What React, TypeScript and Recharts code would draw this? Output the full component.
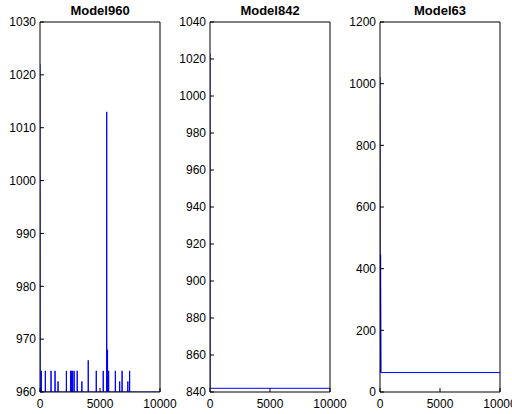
import React from 'react';
import { LineChart, Line, XAxis, YAxis } from 'recharts';

// x ticks shared by all three panels
const xTicks = [0, 5000, 10000];

// Model960: start value, baseline and the spikes
const m960Start = 1022;
const m960Base = 960;
const m960SpikeX = [110, 445, 920, 1255, 1505, 2200, 2550, 2635, 2720, 2845, 3100, 3490, 4020, 4690, 5270, 5560, 5630, 5720, 6280, 6640, 6840, 7320, 7470];
const m960SpikeY = [964, 964, 964, 964, 962, 964, 964, 964, 964, 964, 964, 962, 966, 964, 964, 1013, 968, 964, 964, 962, 964, 962, 964];
const m960Ticks = [960, 970, 980, 990, 1000, 1010, 1020, 1030];

// Model842: drops right away and stays flat
const m842X = [0, 10, 10000];
const m842Y = [1023, 842, 842];
const m842Ticks = [840, 860, 880, 900, 920, 940, 960, 980, 1000, 1020, 1040];

// Model63: drop, small bounce, then flat
const m63X = [0, 20, 50, 90, 10000];
const m63Y = [1022, 63, 445, 63, 63];
const m63Ticks = [0, 200, 400, 600, 800, 1000, 1200];

type Pt = { x: number; y: number };

const buildSpikes = (): Pt[] => {
  const pts: Pt[] = [{ x: 0, y: m960Start }, { x: 15, y: m960Base }];
  m960SpikeX.forEach((sx, i) => {
    pts.push({ x: sx - 12, y: m960Base });
    pts.push({ x: sx, y: m960SpikeY[i] });
    pts.push({ x: sx + 12, y: m960Base });
  });
  pts.push({ x: 10000, y: m960Base });
  return pts;
};

const zip = (xs: number[], ys: number[]): Pt[] => xs.map((x, i) => ({ x, y: ys[i] }));

const tickStyle = { fill: '#000', fontSize: 12, fontFamily: '"Liberation Sans", Arial, sans-serif' };

interface PanelProps {
  title: string;
  left: number;
  data: Pt[];
  yTicks: number[];
}

const Panel: React.FC<PanelProps> = ({ title, left, data, yTicks }) => {
  const yDomain = [yTicks[0], yTicks[yTicks.length - 1]];
  return (
    <div style={{ position: 'absolute', left, top: 0, width: 170, height: 414 }}>
      <div
        style={{
          position: 'absolute',
          left: 40,
          top: 4,
          width: 120,
          textAlign: 'center',
          fontFamily: '"Liberation Sans", Arial, sans-serif',
          fontWeight: 'bold',
          fontSize: 13,
          lineHeight: '13px',
        }}
      >
        {title}
      </div>
      <LineChart width={170} height={414} data={data} margin={{ top: 0, right: 0, bottom: 0, left: 0 }}>
        <XAxis
          dataKey="x"
          type="number"
          domain={[0, 10000]}
          ticks={xTicks}
          interval={0}
          height={22}
          allowDataOverflow
          stroke="#000"
          tickSize={-4}
          tickMargin={11}
          tick={tickStyle}
        />
        <XAxis
          xAxisId="t"
          orientation="top"
          dataKey="x"
          type="number"
          domain={[0, 10000]}
          ticks={xTicks}
          interval={0}
          height={22}
          stroke="#000"
          tickSize={-4}
          tick={false}
        />
        <YAxis
          type="number"
          domain={yDomain}
          ticks={yTicks}
          interval={0}
          width={40}
          allowDataOverflow
          stroke="#000"
          tickSize={-4}
          tickMargin={8}
          tick={tickStyle}
        />
        <YAxis
          yAxisId="r"
          orientation="right"
          type="number"
          domain={yDomain}
          ticks={yTicks}
          interval={0}
          width={10}
          stroke="#000"
          tickSize={-4}
          tick={false}
        />
        <Line
          type="linear"
          dataKey="y"
          stroke="#0000ff"
          strokeWidth={1}
          dot={false}
          isAnimationActive={false}
        />
      </LineChart>
    </div>
  );
};

const App: React.FC = () => (
  <div style={{ position: 'absolute', left: 0, top: 0, width: 512, height: 414, background: '#fff', overflow: 'hidden' }}>
    <style>{'svg { overflow: visible; }'}</style>
    <Panel title="Model960" left={0} data={buildSpikes()} yTicks={m960Ticks} />
    <Panel title="Model842" left={170} data={zip(m842X, m842Y)} yTicks={m842Ticks} />
    <Panel title="Model63" left={340} data={zip(m63X, m63Y)} yTicks={m63Ticks} />
  </div>
);

export default App;
